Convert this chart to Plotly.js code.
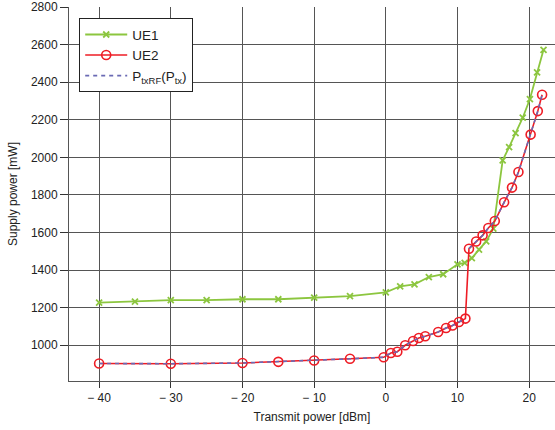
<!DOCTYPE html>
<html>
<head>
<meta charset="utf-8">
<script src="https://cdn.plot.ly/plotly-3.0.1.min.js"></script>
<style>html,body{margin:0;padding:0;background:#fff;}#chart{width:555px;height:430px;}</style>
</head>
<body>
<div id="chart"></div>
<script>
const ue1X = [-40, -35, -30, -25, -20, -15, -10, -5, 0, 2, 4, 6, 8, 10, 11, 12, 13, 14, 15, 16.3, 17.2, 18.1, 19.1, 20.1, 21.1, 22];
const ue1Y = [1227, 1232, 1240, 1240, 1245, 1245, 1254, 1262, 1282, 1314, 1324, 1363, 1378, 1431, 1438, 1464, 1509, 1553, 1621, 1984, 2055, 2129, 2211, 2310, 2452, 2572];

const ue2X = [-40, -30, -20, -15, -10, -5, -0.3, 0.7, 1.6, 2.7, 3.8, 4.6, 5.5, 7.3, 8.4, 9.3, 10.2, 11.1, 11.6, 12.6, 13.5, 14.3, 15.2, 16.5, 17.6, 18.5, 20.2, 21.2, 21.8];
const ue2Y = [903, 902, 906, 912, 919, 928, 936, 959, 966, 1000, 1023, 1039, 1048, 1071, 1092, 1105, 1124, 1142, 1514, 1552, 1585, 1624, 1661, 1761, 1839, 1922, 2121, 2246, 2333];

// model curve P_txRF(P_tx): lower and upper branches (no vertical jump)
const jumpIndex = 18;
const modelX = ue2X.slice(0, jumpIndex).concat([null], ue2X.slice(jumpIndex));
const modelY = ue2Y.slice(0, jumpIndex).concat([null], ue2Y.slice(jumpIndex));

const xTicks = [-40, -30, -20, -10, 0, 10, 20];
const yTicks = [1000, 1200, 1400, 1600, 1800, 2000, 2200, 2400, 2600, 2800];

const font = {family: 'Liberation Sans, Arial, sans-serif', size: 12, color: '#222'};

const traces = [
  {x: ue1X, y: ue1Y, name: 'UE1', mode: 'lines+markers', type: 'scatter',
   line: {color: '#8cc63f', width: 1.8},
   marker: {symbol: 'x-thin-open', size: 6, color: '#8cc63f', line: {color: '#8cc63f', width: 1.8}}},
  {x: ue2X, y: ue2Y, name: 'UE2', mode: 'lines+markers', type: 'scatter',
   line: {color: '#ee1c25', width: 1.6},
   marker: {symbol: 'circle-open', size: 9, color: '#ee1c25', line: {color: '#ee1c25', width: 1.6}}},
  {x: modelX, y: modelY, name: 'P<sub>txRF</sub>(P<sub>tx</sub>)', mode: 'lines', type: 'scatter',
   connectgaps: false,
   line: {color: '#6a6ab4', width: 1.6, dash: '4px,4px'}}
];

const layout = {
  width: 555, height: 430,
  margin: {l: 69, r: 0, t: 7, b: 49},
  paper_bgcolor: '#fff', plot_bgcolor: '#fff',
  font: font,
  showlegend: true,
  legend: {x: 0.021, y: 0.97, xanchor: 'left', yanchor: 'top',
           bgcolor: '#fff', bordercolor: '#222', borderwidth: 1,
           itemwidth: 42,
           font: {family: 'Liberation Sans, Arial, sans-serif', size: 13.5, color: '#222'},
           tracegroupgap: 0},
  xaxis: {range: [-44.2, 23.6], tickvals: xTicks, ticktext: xTicks.map(v => v < 0 ? '\u2212 ' + Math.abs(v) : String(v)),
          showgrid: true, gridcolor: '#555', gridwidth: 1,
          showline: true, linecolor: '#555', linewidth: 1,
          ticks: 'outside', ticklen: 6, tickcolor: '#333', zeroline: false,
          tickfont: {size: 12, color: '#222'},
          title: {text: 'Transmit power [dBm]', font: {size: 12, color: '#222'}, standoff: 8}},
  yaxis: {range: [810, 2800], tickvals: yTicks,
          showgrid: true, gridcolor: '#555', gridwidth: 1,
          showline: true, linecolor: '#555', linewidth: 1,
          ticks: 'outside', ticklen: 8, tickcolor: '#333', zeroline: false,
          tickfont: {size: 12, color: '#222'},
          title: {text: 'Supply power [mW]', font: {size: 12, color: '#222'}, standoff: 10}}
};

Plotly.newPlot('chart', traces, layout, {displayModeBar: false, staticPlot: true});
</script>
</body>
</html>
